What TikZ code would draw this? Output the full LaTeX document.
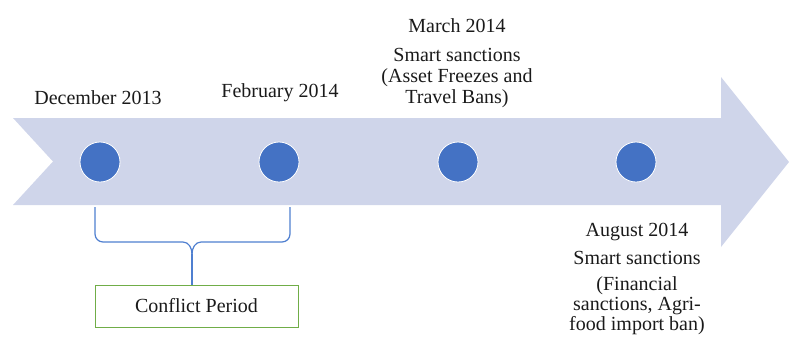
\documentclass[tikz,border=0pt]{standalone}
\usepackage{fontspec}
\setmainfont{Liberation Serif}
\newfontfamily\tnrfont{Liberation Serif}
\definecolor{arrowfill}{HTML}{CFD5EA}
\definecolor{dotblue}{HTML}{4472C4}
\definecolor{braceblue}{HTML}{4F7FD0}
\definecolor{boxgreen}{HTML}{70AD47}
\definecolor{txt}{HTML}{1A1A1A}
\tikzset{
  dot/.style={circle, fill=dotblue, draw=white, line width=0.8pt, minimum size=40pt, inner sep=0pt},
  lbl/.style={anchor=base, inner sep=0pt, text=txt, font=\tnrfont\fontsize{20}{21}\selectfont},
  periodbox/.style={draw=boxgreen, line width=1pt, minimum width=203pt, minimum height=42pt, inner sep=0pt, text=txt, font=\tnrfont\fontsize{20}{21}\selectfont},
  bracecurve/.style={draw=braceblue, line width=1.2pt}
}
\begin{document}
\begin{tikzpicture}[x=1pt,y=-1pt]
\useasboundingbox (0,0) rectangle (789,338);
% timeline arrow
\fill[arrowfill] (13,118) -- (721,118) -- (721,77) -- (789,162) -- (721,247) -- (721,205) -- (13,205) -- (53,161.5) -- cycle;
% dots
\node[dot] (c1) at (100,162) {};
\node[dot] (c2) at (279,162) {};
\node[dot] (c3) at (458,162) {};
\node[dot] (c4) at (636,162) {};
% labels
\node[lbl] (dec) at (98,104) {December 2013};
\node[lbl] (feb) at (280,97) {February 2014};
\node[lbl] (mar) at (457,32) {March 2014};
\node[lbl] (mar1) at (457,61) {Smart sanctions};
\node[lbl] (mar2) at (457,82) {(Asset Freezes and};
\node[lbl] (mar3) at (457,103) {Travel Bans)};
\node[lbl] (aug) at (637,236) {August 2014};
\node[lbl] (aug1) at (637,264) {Smart sanctions};
\node[lbl] (aug2) at (637,290) {(Financial};
\node[lbl] (aug3) at (637,310) {sanctions, Agri-};
\node[lbl] (aug4) at (637,330) {food import ban)};
% conflict period box
\node[periodbox] (cp) at (196.5,306) {Conflict Period};
% brace
\coordinate (bl) at (95,207);
\coordinate (br) at (290,207);
\coordinate (bm) at (192,254);
\draw[bracecurve] (bl) -- (95,234) to[out=-90,in=180] (103,242) -- (183,242) to[out=0,in=90] (bm);
\draw[bracecurve] (br) -- (290,234) to[out=-90,in=0] (282,242) -- (201,242) to[out=180,in=90] (bm);
\draw[bracecurve] (bm) -- (cp.north -| bm);
\end{tikzpicture}
\end{document}
